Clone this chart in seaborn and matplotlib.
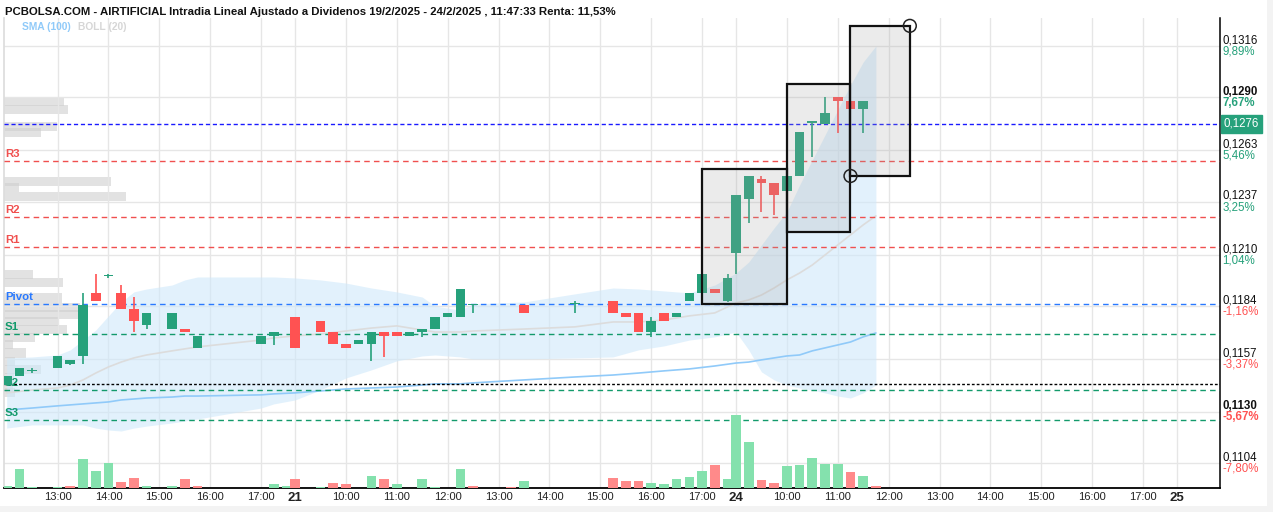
"""Intradía AIRTIFICIAL (velas 15 min) con Bollinger, SMA, pivotes y volumen."""

import matplotlib
matplotlib.use("Agg")
import matplotlib.pyplot as plt
import matplotlib.transforms as mtransforms
from matplotlib.patches import Rectangle
import pandas as pd
import seaborn as sns

# eje x comprimido: cada sesión ocupa 9:00-17:40, sin huecos entre días
SESSION_HOURS = 520 / 60


def to_x(stamp):
    """'s HH:MM' -> horas de mercado desde la apertura de la sesión 0."""
    session, hm = stamp.split()
    h, m = hm.split(":")
    return int(session) * SESSION_HOURS + int(h) + int(m) / 60 - 9


# ---------------------------------------------------------------- datos
candle_time = [
    "0 12:00", "0 12:15", "0 12:30", "0 13:00", "0 13:15", "0 13:30", "0 13:45",
    "0 14:00", "0 14:15", "0 14:30", "0 14:45", "0 15:15", "0 15:30", "0 15:45",
    "0 17:00", "0 17:15",
    "1 09:00", "1 09:30", "1 09:45", "1 10:00", "1 10:15", "1 10:30", "1 10:45",
    "1 11:00", "1 11:15", "1 11:30", "1 11:45", "1 12:00", "1 12:15", "1 12:30",
    "1 13:30", "1 14:30", "1 15:15", "1 15:30", "1 15:45", "1 16:00", "1 16:15",
    "1 16:30", "1 16:45", "1 17:00", "1 17:15", "1 17:30",
    "2 09:00", "2 09:15", "2 09:30", "2 09:45", "2 10:00", "2 10:15", "2 10:30",
    "2 10:45", "2 11:00", "2 11:15", "2 11:30",
]
candle_open = [
    0.11436, 0.11482, 0.11508, 0.11523, 0.11543, 0.11584, 0.11905,
    0.11991, 0.11905, 0.11823, 0.11742, 0.11721, 0.11721, 0.11625,
    0.11645, 0.11686,
    0.11782, 0.11762, 0.11706, 0.11645, 0.11645, 0.11645, 0.11706,
    0.11706, 0.11686, 0.11706, 0.11721, 0.11782, 0.11782, 0.11844,
    0.11844, 0.11849, 0.11864, 0.11803, 0.11803, 0.11706, 0.11803,
    0.11782, 0.11864, 0.11905, 0.11925, 0.11864,
    0.12108, 0.12383, 0.12485, 0.12465, 0.12424, 0.12500, 0.12770,
    0.12765, 0.12902, 0.12882, 0.12841,
]
candle_high = [
    0.11482, 0.11523, 0.11523, 0.11584, 0.11564, 0.11905, 0.12001,
    0.12001, 0.11945, 0.11884, 0.11803, 0.11803, 0.11721, 0.11686,
    0.11686, 0.11706,
    0.11782, 0.11762, 0.11706, 0.11645, 0.11665, 0.11706, 0.11706,
    0.11706, 0.11706, 0.11721, 0.11782, 0.11803, 0.11925, 0.11849,
    0.11844, 0.11864, 0.11864, 0.11803, 0.11803, 0.11782, 0.11803,
    0.11803, 0.11905, 0.12001, 0.11925, 0.12001,
    0.12403, 0.12500, 0.12500, 0.12465, 0.12500, 0.12724, 0.12780,
    0.12902, 0.12902, 0.12882, 0.12882,
]
candle_low = [
    0.11436, 0.11482, 0.11497, 0.11523, 0.11538, 0.11543, 0.11864,
    0.11981, 0.11823, 0.11706, 0.11721, 0.11721, 0.11706, 0.11625,
    0.11645, 0.11640,
    0.11625, 0.11706, 0.11645, 0.11625, 0.11645, 0.11559, 0.11579,
    0.11686, 0.11686, 0.11681, 0.11721, 0.11782, 0.11782, 0.11803,
    0.11803, 0.11803, 0.11803, 0.11782, 0.11706, 0.11681, 0.11762,
    0.11782, 0.11864, 0.11905, 0.11905, 0.11859,
    0.12001, 0.12261, 0.12317, 0.12302, 0.12424, 0.12500, 0.12597,
    0.12765, 0.12719, 0.12841, 0.12719,
]
candle_close = [
    0.11482, 0.11523, 0.11508, 0.11584, 0.11564, 0.11844, 0.11864,
    0.11991, 0.11823, 0.11762, 0.11803, 0.11803, 0.11706, 0.11686,
    0.11686, 0.11706,
    0.11625, 0.11706, 0.11645, 0.11625, 0.11665, 0.11706, 0.11686,
    0.11686, 0.11706, 0.11721, 0.11782, 0.11803, 0.11925, 0.11844,
    0.11803, 0.11849, 0.11803, 0.11782, 0.11706, 0.11762, 0.11762,
    0.11803, 0.11905, 0.12001, 0.11905, 0.11981,
    0.12403, 0.12500, 0.12465, 0.12403, 0.12500, 0.12724, 0.12780,
    0.12821, 0.12882, 0.12841, 0.12882,
]

vol_time = [
    "0 12:00", "0 12:15", "0 12:30", "0 13:00", "0 13:15", "0 13:30", "0 13:45",
    "0 14:00", "0 14:15", "0 14:30", "0 14:45", "0 15:15", "0 15:30", "0 15:45",
    "0 17:15", "0 17:30",
    "1 09:00", "1 09:30", "1 09:45", "1 10:00", "1 10:30", "1 10:45", "1 11:00",
    "1 11:30", "1 11:45", "1 12:15", "1 12:30", "1 13:15", "1 13:30", "1 15:15",
    "1 15:30", "1 15:45", "1 16:00", "1 16:15", "1 16:30", "1 16:45", "1 17:00",
    "1 17:15", "1 17:30",
    "2 09:00", "2 09:15", "2 09:30", "2 09:45", "2 10:00", "2 10:15", "2 10:30",
    "2 10:45", "2 11:00", "2 11:15", "2 11:30", "2 11:45",
]
vol_value = [
    2.5, 18.6, 1.5, 1.5, 2.5, 29.2, 16.8,
    25.3, 6.2, 10.1, 2.5, 2.5, 9.0, 2.5,
    3.6, 1.8,
    9.0, 1.5, 5.0, 4.0, 12.2, 9.0, 3.6,
    9.0, 1.5, 18.6, 2.5, 0.8, 7.0, 10.0,
    7.0, 6.6, 5.5, 4.5, 9.0, 11.1, 17.5,
    22.8, 9.0,
    73.0, 46.3, 8.0, 5.5, 21.8, 22.8, 30.3,
    24.3, 24.3, 15.7, 12.2, 1.8,
]
vol_up = [
    1, 1, 1, 1, 0, 1, 1,
    1, 0, 0, 1, 1, 0, 0,
    1, 1,
    0, 1, 0, 0, 1, 0, 1,
    1, 1, 1, 0, 0, 1, 0,
    0, 0, 1, 1, 1, 1, 1,
    0, 1,
    1, 1, 0, 0, 1, 1, 1,
    1, 1, 0, 1, 0,
]

band_time = [
    "0 12:00", "0 12:30", "0 13:00", "0 13:15", "0 13:30", "0 13:45", "0 14:00",
    "0 14:15", "0 14:30", "0 14:45", "0 15:15", "0 15:30", "0 15:45", "0 17:00",
    "0 17:15", "1 09:00", "1 09:30", "1 10:00", "1 10:30", "1 11:00", "1 11:30",
    "1 11:45", "1 12:15", "1 12:30", "1 13:30", "1 14:30", "1 15:15", "1 15:45",
    "1 16:15", "1 16:45", "1 17:15", "2 09:00", "2 09:15", "2 09:30", "2 09:45",
    "2 10:00", "2 10:15", "2 10:30", "2 10:45", "2 11:00", "2 11:15", "2 11:30",
    "2 11:45",
]
boll_upper = [
    0.11574, 0.11579, 0.11589, 0.11615, 0.11665, 0.11716, 0.11788,
    0.11859, 0.11910, 0.11925, 0.11945, 0.11971, 0.11986, 0.11986,
    0.11986, 0.11981, 0.11971, 0.11955, 0.11930, 0.11910, 0.11884,
    0.11838, 0.11817, 0.11849, 0.11859, 0.11900, 0.11930, 0.11925,
    0.11915, 0.11905, 0.11945, 0.12006, 0.12062, 0.12149, 0.12236,
    0.12317, 0.12454, 0.12582, 0.12709, 0.12836, 0.12963, 0.13080,
    0.13162,
]
boll_lower = [
    0.11217, 0.11233, 0.11233, 0.11233, 0.11233, 0.11217, 0.11207,
    0.11202, 0.11217, 0.11227, 0.11243, 0.11253, 0.11263, 0.11319,
    0.11340, 0.11360, 0.11411, 0.11472, 0.11513, 0.11559, 0.11584,
    0.11589, 0.11579, 0.11569, 0.11569, 0.11574, 0.11579, 0.11615,
    0.11635, 0.11665, 0.11681, 0.11706, 0.11615, 0.11503, 0.11462,
    0.11436, 0.11421, 0.11411, 0.11396, 0.11380, 0.11370, 0.11396,
    0.11436,
]
boll_mid = [
    0.11396, 0.11411, 0.11421, 0.11436, 0.11462, 0.11497, 0.11528,
    0.11553, 0.11574, 0.11589, 0.11610, 0.11620, 0.11630, 0.11665,
    0.11676, 0.11686, 0.11696, 0.11711, 0.11726, 0.11737, 0.11716,
    0.11706, 0.11706, 0.11711, 0.11721, 0.11732, 0.11757, 0.11757,
    0.11767, 0.11788, 0.11803, 0.11854, 0.11869, 0.11894, 0.11930,
    0.11971, 0.12006, 0.12047, 0.12098, 0.12149, 0.12200, 0.12251,
    0.12297,
]
sma_100 = [
    0.11309, 0.11319, 0.11330, 0.11335, 0.11340, 0.11345, 0.11350,
    0.11360, 0.11365, 0.11370, 0.11375, 0.11380, 0.11380, 0.11386,
    0.11391, 0.11396, 0.11406, 0.11416, 0.11421, 0.11426, 0.11436,
    0.11442, 0.11442, 0.11447, 0.11462, 0.11477, 0.11487, 0.11497,
    0.11508, 0.11518, 0.11533, 0.11548, 0.11553, 0.11564, 0.11574,
    0.11584, 0.11589, 0.11610, 0.11625, 0.11640, 0.11655, 0.11681,
    0.11701,
]

# perfil de volumen por precio (barras grises a la izquierda)
profile_price = [0.12877, 0.12836, 0.12752, 0.12719, 0.12472, 0.12439, 0.12396,
                 0.11999, 0.11956, 0.11879, 0.11833, 0.11793, 0.11757, 0.11719,
                 0.11678, 0.11643, 0.11599, 0.11556, 0.11515, 0.11472, 0.11426,
                 0.11398]
profile_vol = [60, 64, 53, 37, 107, 15, 122, 29, 59, 58, 76, 76, 54, 63,
               31, 9, 22, 11, 37, 10, 9, 11]

# niveles: resistencias, pivote, soportes
level_name = ["R3", "R2", "R1", "Pivot", "S1", "S2", "S3"]
level_price = [0.12577, 0.12292, 0.12139, 0.11849, 0.11696, 0.11411, 0.11258]
level_color = ["#f0504f", "#f0504f", "#f0504f", "#2979ff", "#139a6b", "#139a6b", "#139a6b"]
last_price = 0.12765
ref_line = 0.11442

# eje de precios (derecha)
tick_price = [0.1316, 0.1290, 0.1263, 0.1237, 0.1210, 0.1184, 0.1157, 0.1130, 0.1104]
tick_label = ["0,1316", "0,1290", "0,1263", "0,1237", "0,1210", "0,1184", "0,1157", "0,1130", "0,1104"]
tick_pct = ["9,89%", "7,67%", "5,46%", "3,25%", "1,04%", "-1,16%", "-3,37%", "-5,67%", "-7,80%"]
tick_bold = [False, True, False, False, False, False, False, True, False]

# eje temporal
xtick_time = ["0 13:00", "0 14:00", "0 15:00", "0 16:00", "0 17:00",
              "1 09:00", "1 10:00", "1 11:00", "1 12:00", "1 13:00", "1 14:00",
              "1 15:00", "1 16:00", "1 17:00",
              "2 09:00", "2 10:00", "2 11:00", "2 12:00", "2 13:00", "2 14:00",
              "2 15:00", "2 16:00", "2 17:00", "3 09:00"]
xtick_label = ["13:00", "14:00", "15:00", "16:00", "17:00",
               "21", "10:00", "11:00", "12:00", "13:00", "14:00", "15:00", "16:00", "17:00",
               "24", "10:00", "11:00", "12:00", "13:00", "14:00", "15:00", "16:00", "17:00",
               "25"]

# cajas dibujadas sobre el gráfico: (inicio, fin, precio bajo, precio alto)
box_start = ["1 17:00", "2 10:00", "2 11:15"]
box_end = ["2 10:00", "2 11:15", "2 12:25"]
box_low = [0.11849, 0.12215, 0.12500]
box_high = [0.12536, 0.12968, 0.13264]
handle_time = ["2 11:15", "2 12:25"]
handle_price = [0.12500, 0.13264]

title = ("PCBOLSA.COM - AIRTIFICIAL Intradia Lineal Ajustado a Dividenos "
         "19/2/2025 - 24/2/2025 , 11:47:33 Renta: 11,53%")

# ---------------------------------------------------------------- estilo
sns.set_theme(style="white")
plt.rcParams["font.family"] = ["Liberation Sans", "DejaVu Sans"]
NARROW = ["Liberation Sans Narrow", "Liberation Sans", "DejaVu Sans"]

GREEN = "#26a17b"
RED = "#ff5252"
GRID = "#e6e6e6"

W, H = 1273, 512
rect = [4 / W, 24 / H, 1216 / W, 470 / H]
fig = plt.figure(figsize=(W / 100, H / 100), dpi=100, facecolor="white")

ax_prof = fig.add_axes(rect, zorder=0)
ax = fig.add_axes(rect, sharey=ax_prof, zorder=1)
ax_vol = fig.add_axes(rect, sharex=ax, zorder=2)
for a in (ax, ax_vol):
    a.patch.set_visible(False)

x_min, x_max = 2.947, 26.846
ax.set_xlim(x_min, x_max)
ax.set_ylim(0.10912, 0.13304)

# perfil de volumen
ax_prof.barh(profile_price, profile_vol, height=0.00046, left=0,
             color="#cfcfcf", alpha=0.6, linewidth=0)
ax_prof.set_xlim(0, 1216)
ax_prof.axis("off")

# rejilla
ax.set_xticks([to_x(t) for t in xtick_time])
ax.set_xticklabels(xtick_label)
ax.set_yticks(tick_price)
ax.grid(True, color=GRID, linewidth=1, zorder=0)
ax.tick_params(axis="y", left=False, right=False, labelleft=False)
ax.tick_params(axis="x", bottom=False, length=0, pad=3, labelsize=8, labelcolor="#222222")
for lab in ax.get_xticklabels():
    if ":" not in lab.get_text():
        lab.set_fontweight("bold")
        lab.set_fontsize(9.5)

ax.spines["top"].set_visible(False)
ax.spines["left"].set_color("#dddddd")
ax.spines["bottom"].set_color("black")
ax.spines["bottom"].set_linewidth(1.3)
ax.spines["right"].set_color("black")
ax.spines["right"].set_linewidth(1.1)

# bandas de Bollinger y medias
band_x = [to_x(t) for t in band_time]
ax.fill_between(band_x, boll_lower, boll_upper, color="#cfe9fb", alpha=0.6,
                linewidth=0, zorder=1.5)
lines = pd.DataFrame({"x": band_x, "mid": boll_mid, "sma": sma_100})
sns.lineplot(data=lines, x="x", y="mid", color="#dcdcdc", linewidth=1.2, ax=ax, zorder=2)
sns.lineplot(data=lines, x="x", y="sma", color="#90caf9", linewidth=1.2, ax=ax, zorder=2)
ax.set_xlabel("")
ax.set_ylabel("")

# niveles
dash = (0, (4, 3))
for name, price, col in zip(level_name, level_price, level_color):
    ax.axhline(price, color=col, linestyle=dash, linewidth=1, zorder=3)
    ax.text(x_min + 0.02, price + 0.00008, name, color=col, fontsize=8.2,
            fontweight="bold", va="bottom", ha="left", zorder=3)
ax.axhline(last_price, color="#1a1aff", linestyle=(0, (3, 2)), linewidth=1, zorder=3)
ax.axhline(ref_line, color="black", linestyle=(0, (2, 1.5)), linewidth=1, zorder=3)

# velas
cx = [to_x(t) for t in candle_time]
ccol = [GREEN if c >= o else RED for o, c in zip(candle_open, candle_close)]
ax.vlines(cx, candle_low, candle_high, colors=ccol, linewidth=1.2, zorder=4)
body_bottom = [min(o, c) for o, c in zip(candle_open, candle_close)]
body_height = [max(abs(c - o), 0.00003) for o, c in zip(candle_open, candle_close)]
ax.bar(cx, body_height, bottom=body_bottom, width=0.19, color=ccol,
       linewidth=0, zorder=5)

# cajas y tiradores
for s, e, lo, hi in zip(box_start, box_end, box_low, box_high):
    ax.add_patch(Rectangle((to_x(s), lo), to_x(e) - to_x(s), hi - lo,
                           facecolor=(0.64, 0.64, 0.64, 0.21), edgecolor="#111111",
                           linewidth=1.6, zorder=6))
ax.scatter([to_x(t) for t in handle_time], handle_price, s=85,
           facecolors="none", edgecolors="#222222", linewidths=1.1, zorder=7,
           clip_on=False)

# volumen
ax_vol.bar([to_x(t) for t in vol_time], vol_value, width=0.19,
           color=["#84e1ad" if u else "#ff8a8a" for u in vol_up], linewidth=0)
ax_vol.set_ylim(0, 470)
ax_vol.axis("off")

# etiquetas del eje de precios
trans = mtransforms.blended_transform_factory(ax.transAxes, ax.transData)
for price, lab, pct, bold in zip(tick_price, tick_label, tick_pct, tick_bold):
    w = "bold" if bold else "normal"
    pct_col = GREEN if not pct.startswith("-") else RED
    ax.annotate(lab, (1, price), xycoords=trans, xytext=(1.5, 4),
                textcoords="offset points", fontsize=8.3, color="#111111",
                fontweight=w, va="center", ha="left", annotation_clip=False)
    ax.annotate(pct, (1, price), xycoords=trans, xytext=(1.5, -4),
                textcoords="offset points", fontsize=8.3, color=pct_col,
                fontweight=w, va="center", ha="left", annotation_clip=False)
ax.annotate("0,1276", (1, last_price), xycoords=trans, xytext=(2.5, 0),
            textcoords="offset points", fontsize=8.3, color="white",
            va="center", ha="left", annotation_clip=False,
            bbox=dict(boxstyle="square,pad=0.25", facecolor=GREEN, edgecolor=GREEN))

# título y leyenda
fig.text(5 / W, 1 - 12 / H, title, fontsize=8.2, fontweight="bold", family=NARROW,
         va="center", ha="left", color="#111111")
fig.text(22 / W, 1 - 27 / H, "SMA (100)", fontsize=7.4, fontweight="bold",
         family=NARROW, color="#90caf9", va="center", ha="left")
fig.text(78 / W, 1 - 27 / H, "BOLL (20)", fontsize=7.4, fontweight="bold",
         family=NARROW, color="#d6d6d6", va="center", ha="left")

# marco gris claro de la imagen
fig.patches.append(Rectangle((0, 0), 1, 6 / H, transform=fig.transFigure,
                             facecolor="#f3f3f3", edgecolor="none", zorder=-1))
fig.patches.append(Rectangle((1 - 6 / W, 0), 6 / W, 1, transform=fig.transFigure,
                             facecolor="#f3f3f3", edgecolor="none", zorder=-1))

fig.savefig("out.png", dpi=100, facecolor="white")
